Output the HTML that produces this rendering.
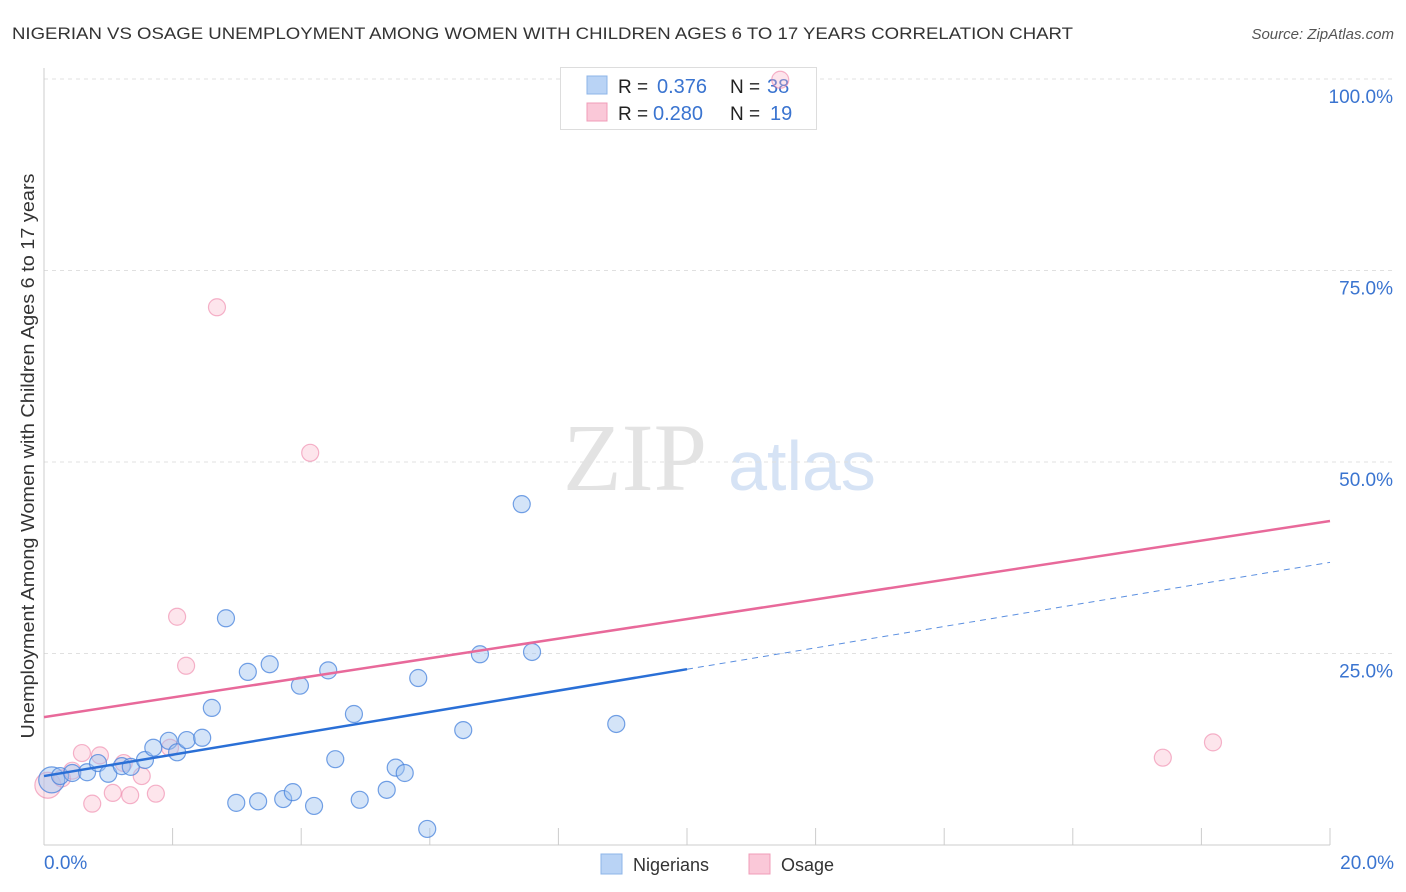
<!DOCTYPE html>
<html><head><meta charset="utf-8"><style>
body{margin:0;background:#fff;font-family:"Liberation Sans",sans-serif}
svg{display:block}
</style></head><body>
<svg id="chart" width="1406" height="892" xmlns="http://www.w3.org/2000/svg">
<text x="12" y="39" font-size="17" fill="#333" textLength="1061" lengthAdjust="spacingAndGlyphs">NIGERIAN VS OSAGE UNEMPLOYMENT AMONG WOMEN WITH CHILDREN AGES 6 TO 17 YEARS CORRELATION CHART</text>
<text x="1394" y="39" font-size="15" fill="#555" font-style="italic" text-anchor="end">Source: ZipAtlas.com</text>
<g>
<text x="635" y="490" font-size="96" font-family="Liberation Serif,serif" fill="#e3e3e3" text-anchor="middle">ZIP</text>
<text x="802" y="490" font-size="70" fill="#d6e3f5" text-anchor="middle">atlas</text>
</g>
<g id="grid"></g>
<g id="axes"></g>
<text transform="translate(34,456) rotate(-90)" font-size="18" fill="#333" text-anchor="middle" textLength="565" lengthAdjust="spacingAndGlyphs">Unemployment Among Women with Children Ages 6 to 17 years</text>
<g>
<rect x="560.5" y="67.5" width="256" height="62" fill="#fff" stroke="#ddd"/>
<rect x="587" y="76" width="20" height="18" fill="#b9d3f5" stroke="#8db4e8"/>
<rect x="587" y="103" width="20" height="18" fill="#fac8d8" stroke="#f09cb8"/>
<text x="618" y="93" font-size="19" fill="#222">R =</text><text x="657" y="93" font-size="20" fill="#3a74d0">0.376</text>
<text x="730" y="93" font-size="19" fill="#222">N =</text><text x="767" y="93" font-size="20" fill="#3a74d0">38</text>
<text x="618" y="120" font-size="19" fill="#222">R =</text><text x="653" y="120" font-size="20" fill="#3a74d0">0.280</text>
<text x="730" y="120" font-size="19" fill="#222">N =</text><text x="770" y="120" font-size="20" fill="#3a74d0">19</text>
</g>
<g id="marks"></g>
<g>
<rect x="601" y="854" width="21" height="20" fill="#b9d3f5" stroke="#8db4e8"/>
<text x="633" y="871" font-size="18" fill="#333">Nigerians</text>
<rect x="749" y="854" width="21" height="20" fill="#fac8d8" stroke="#f09cb8"/>
<text x="781" y="871" font-size="18" fill="#333">Osage</text>
</g>
</svg>
<script>
const blueX=[0.12,0.25,0.44,0.67,0.84,1.0,1.21,1.35,1.57,1.7,1.94,2.07,2.22,2.46,2.61,2.83,2.99,3.17,3.33,3.51,3.72,3.87,3.98,4.2,4.42,4.53,4.82,4.91,5.33,5.47,5.61,5.82,5.96,6.52,6.78,7.43,7.59,8.9];
const blueY=[8.5,9.0,9.4,9.5,10.7,9.3,10.3,10.2,11.1,12.7,13.6,12.1,13.7,14.0,17.9,29.6,5.5,22.6,5.7,23.6,6.0,6.9,20.8,5.1,22.8,11.2,17.1,5.9,7.2,10.1,9.4,21.8,2.1,15.0,24.9,44.5,25.2,15.8];
const pinkX=[0.06,0.28,0.44,0.59,0.75,0.87,1.07,1.24,1.34,1.52,1.74,1.96,2.07,2.21,2.69,4.14,11.45,17.4,18.18];
const pinkY=[7.8,8.7,9.7,12.0,5.4,11.7,6.8,10.7,6.5,9.0,6.7,12.7,29.8,23.4,70.2,51.2,99.9,11.4,13.4];
const blueTrend=[9.0,36.9];
const pinkTrend=[16.7,42.3];
const yTicks=[25,50,75,100];
const yTickLabels=["25.0%","50.0%","75.0%","100.0%"];
const xTicks=[0,2,4,6,8,10,12,14,16,18,20];
const NS="http://www.w3.org/2000/svg";
const X=v=>44+v/20*1286, Y=v=>845-v/100*766;
function mk(g,t,a){const e=document.createElementNS(NS,t);for(const k in a)e.setAttribute(k,a[k]);document.getElementById(g).appendChild(e);return e;}
yTicks.forEach((t,i)=>{
 const l=mk('grid','line',{x1:44,x2:1394,y1:Y(t),y2:Y(t),stroke:'#e0e0e0','stroke-dasharray':'4,4'});
 
 
 const tx=mk('axes','text',{x:1393,y:Y(t)+24,'font-size':19,fill:'#3a74d0','text-anchor':'end'});
 tx.textContent=yTickLabels[i];
 
 
});
xTicks.forEach(t=>{if(t===0)return;
 const l=mk('axes','line',{x1:X(t),x2:X(t),y1:828,y2:845,stroke:'#ccc'});
 
 
});
let a=mk('axes','line',{x1:44,x2:44,y1:68,y2:845,stroke:'#ccc'});


a=mk('axes','line',{x1:44,x2:1330,y1:845,y2:845,stroke:'#ccc'});


let t=mk('axes','text',{x:44,y:869,'font-size':19,fill:'#3a74d0'});t.textContent='0.0%';


t=mk('axes','text',{x:1394,y:869,'font-size':19,fill:'#3a74d0','text-anchor':'end'});t.textContent='20.0%';


function pts(xs,ys,fill,stroke,name,bigIdx){
 xs.forEach((x,i)=>{
  const c=mk('marks','circle',{cx:X(x),cy:Y(ys[i]),r:i===bigIdx?13:8.5,fill:fill,stroke:stroke,'stroke-width':1.2});
  
  
 });
}
pts(pinkX,pinkY,'rgba(248,180,200,0.35)','rgba(236,120,160,0.55)','osage-point',0);
pts(blueX,blueY,'rgba(160,196,240,0.45)','rgba(70,130,220,0.75)','nigerian-point',0);
const bm=blueTrend[0]+(blueTrend[1]-blueTrend[0])*0.5;
let l=mk('marks','line',{x1:X(0),y1:Y(blueTrend[0]),x2:X(10),y2:Y(bm),stroke:'#2a6fd6','stroke-width':2.5});


l=mk('marks','line',{x1:X(10),y1:Y(bm),x2:X(20),y2:Y(blueTrend[1]),stroke:'#5b8fe0','stroke-width':1,'stroke-dasharray':'6,5'});


l=mk('marks','line',{x1:X(0),y1:Y(pinkTrend[0]),x2:X(20),y2:Y(pinkTrend[1]),stroke:'#e8699a','stroke-width':2.5});


</script>
</body></html>
